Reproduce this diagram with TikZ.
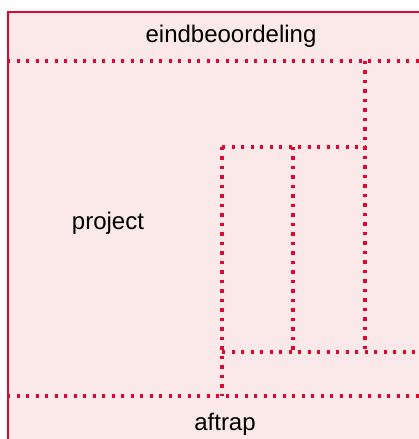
\documentclass[tikz,border=0pt]{standalone}
\usepackage{fontspec}
\setmainfont{Liberation Sans}
\definecolor{boxred}{RGB}{222,8,48}
\definecolor{boxfill}{RGB}{251,233,233}
\tikzset{
  dotline/.style={draw=boxred, line width=3.2pt, dash pattern=on 3.2pt off 6.3pt},
  lbl/.style={font=\fontsize{24}{28}\selectfont, text=black, inner sep=0pt}
}
\begin{document}
\begin{tikzpicture}[x=1pt,y=1pt]
\useasboundingbox (0,0) rectangle (419,439);
\clip (0,0) rectangle (419,439);
\fill[white] (0,0) rectangle (419,439);
\draw[draw=boxred, fill=boxfill, line width=2.8pt] (8,427) rectangle (430,-10);
% named points
\coordinate (hl1) at (7,378);
\coordinate (hr1) at (425,378);
\coordinate (vtop) at (365,378);
\coordinate (vbot) at (365,87);
\coordinate (itl) at (222,292);
\coordinate (itr) at (365,292);
\coordinate (ibl) at (222,43);
\coordinate (imt) at (293,292);
\coordinate (imb) at (293,87);
\coordinate (ibotl) at (222,87);
\coordinate (ibotr) at (425,87);
\coordinate (hl2) at (7,43);
\coordinate (hr2) at (425,43);
\draw[dotline] (hl1) -- (hr1);
\draw[dotline] (vtop) -- (vbot);
\draw[dotline] (itl) -- (itr);
\draw[dotline] (itl) -- (ibl);
\draw[dotline] (imt) -- (imb);
\draw[dotline] (ibotl) -- (ibotr);
\draw[dotline] (hl2) -- (hr2);
\node[lbl] (eind) at (231,403) {eindbeoordeling};
\node[lbl] (proj) at (108,216) {project};
\node[lbl] (aft) at (225,15) {aftrap};
\end{tikzpicture}
\end{document}
